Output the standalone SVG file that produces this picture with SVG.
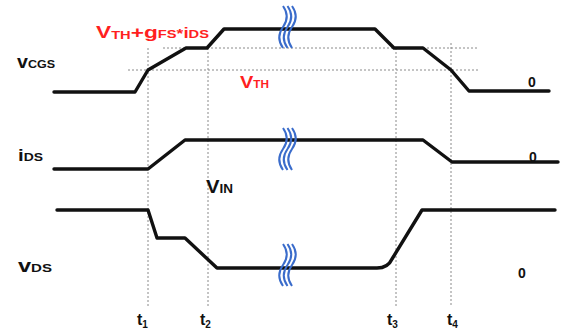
<svg xmlns="http://www.w3.org/2000/svg" width="567" height="333" viewBox="0 0 567 333">
<style>
text{font-family:"Liberation Sans",Arial,sans-serif;font-weight:bold;fill:#111}
.red{fill:#ff1f1f}
.wave{fill:none;stroke:#111;stroke-width:3.4;stroke-linejoin:round;stroke-linecap:round}
.guide{fill:none;stroke:#8a8a8a;stroke-width:1;stroke-dasharray:2,2}
.brk{fill:none;stroke:#3a6ccb;stroke-width:2}
</style>
<defs>
<g id="brk" class="brk">
<path d="M0,0 C5,7 5,14 0,21 S-5,35 0,42"/>
<path d="M4.5,0 C9.5,7 9.5,14 4.5,21 S-0.5,35 4.5,42"/>
<path d="M9,0 C14,7 14,14 9,21 S4,35 9,42"/>
</g>
</defs>
<rect width="567" height="333" fill="#fff"/>
<g id="guides">
<line class="guide" x1="163" y1="48" x2="478" y2="48"/>
<line class="guide" x1="128" y1="70" x2="478" y2="70"/>
<line class="guide" x1="148" y1="48" x2="148" y2="306"/>
<line class="guide" x1="208" y1="48" x2="208" y2="306"/>
<line class="guide" x1="396" y1="48" x2="396" y2="306"/>
<line class="guide" x1="451" y1="43" x2="451" y2="306"/>
</g>
<g id="connectors">
<path id="vcgs-wave" class="wave" d="M54,92 L135,92 L148,70 L186,48 L207,48 L224,29 L375,29 L394,48 L423,48 L451,70 L469,91 L549,91"/>
<path id="ids-wave" class="wave" d="M54,169 L148,169 L185,140 L423,140 L452,162 L558,162"/>
<path id="vds-wave" class="wave" d="M57,210 L148,210 L157,238 L185,238 L217,268 L377,268 Q388,268 392,259 L422,210 L555,210"/>
</g>
<g id="breaks">
<use href="#brk" x="283" y="6"/>
<use href="#brk" x="283" y="128"/>
<use href="#brk" x="283" y="244"/>
</g>
<g id="label-vcgs"><text x="17" y="68" textLength="38" lengthAdjust="spacingAndGlyphs"><tspan font-size="18">v</tspan><tspan font-size="11.5">CGS</tspan></text></g>
<g id="label-ids"><text x="18" y="161" textLength="25" lengthAdjust="spacingAndGlyphs"><tspan font-size="17">i</tspan><tspan font-size="11.5">DS</tspan></text></g>
<g id="label-vds"><text x="18" y="272" textLength="34" lengthAdjust="spacingAndGlyphs"><tspan font-size="18">v</tspan><tspan font-size="11.5">DS</tspan></text></g>
<g id="label-vth-gfs"><text class="red" x="96" y="38" textLength="113" lengthAdjust="spacingAndGlyphs"><tspan font-size="17">V</tspan><tspan font-size="11" dy="1">TH</tspan><tspan font-size="17" dy="-1">+g</tspan><tspan font-size="11">FS</tspan><tspan font-size="13">*</tspan><tspan font-size="14">i</tspan><tspan font-size="11">DS</tspan></text></g>
<g id="label-vth"><text class="red" x="240" y="88" textLength="29" lengthAdjust="spacingAndGlyphs"><tspan font-size="17">V</tspan><tspan font-size="10">TH</tspan></text></g>
<g id="label-vin"><text x="206" y="193" textLength="27" lengthAdjust="spacingAndGlyphs"><tspan font-size="18">V</tspan><tspan font-size="12">IN</tspan></text></g>
<g id="zeros">
<text x="528" y="87" font-size="14">0</text>
<text x="529" y="162" font-size="14">0</text>
<text x="518" y="278" font-size="14">0</text>
</g>
<g id="time-labels">
<text x="137" y="325"><tspan font-size="16">t</tspan><tspan font-size="10" dy="3">1</tspan></text>
<text x="200" y="325"><tspan font-size="16">t</tspan><tspan font-size="10" dy="3">2</tspan></text>
<text x="387" y="325"><tspan font-size="16">t</tspan><tspan font-size="10" dy="3">3</tspan></text>
<text x="447" y="325"><tspan font-size="16">t</tspan><tspan font-size="10" dy="3">4</tspan></text>
</g>
</svg>
